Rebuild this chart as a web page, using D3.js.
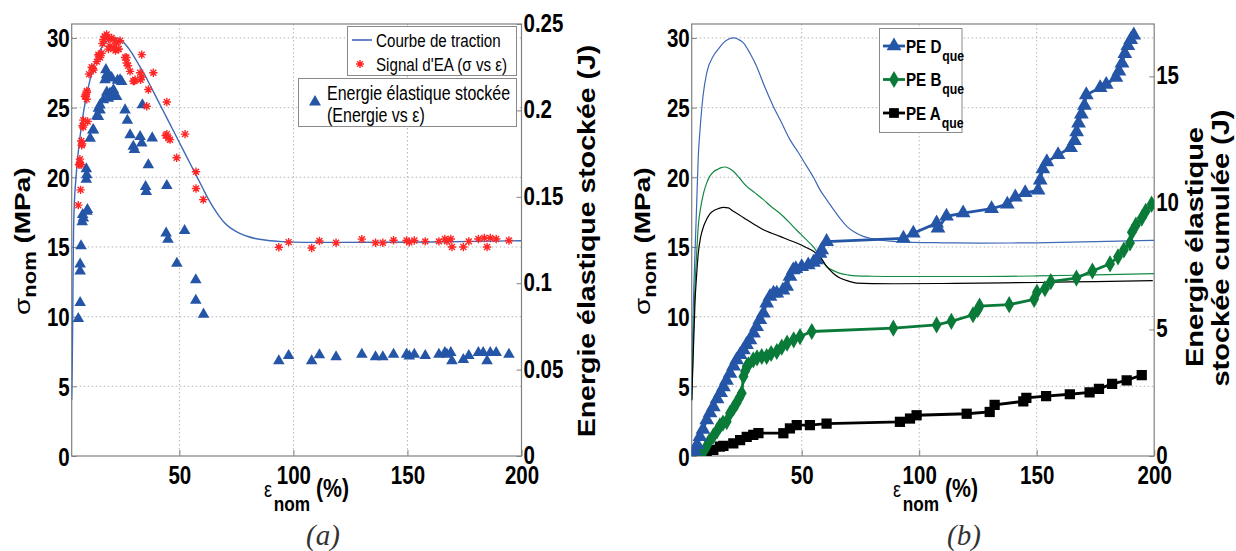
<!DOCTYPE html>
<html><head><meta charset="utf-8">
<script src="https://cdn.jsdelivr.net/npm/d3@7"></script>
<style>body{margin:0;background:#fff}</style>
</head><body>
<script>
// ---------------- Panel (a) data ----------------
const epsTraction = [2.8,3.0,3.2,3.4,3.6,4.0,4.6,5.3,6.0,7.0,8.0,9.0,10.0,11.0,12.5,14.0,15.5,17.0,18.5,20.0,21.5,23.0,24.5,26.0,28.0,30.0,32.5,35.0,37.5,40.0,42.5,45.0,47.5,50.0,52.5,55.0,57.5,60.0,62.5,65.0,67.5,70.0,72.5,75.0,77.5,80.0,85.0,90.0,95.0,100,110,120,140,160,180,200];
const sigTraction = [4.0,6.0,9.0,13.0,16.0,18.3,19.8,21.2,22.3,23.6,24.7,25.6,26.4,27.1,28.0,28.7,29.2,29.55,29.8,29.95,30.0,29.98,29.85,29.6,29.2,28.7,28.0,27.3,26.5,25.7,24.9,24.1,23.3,22.5,21.7,20.9,20.1,19.3,18.5,17.8,17.2,16.7,16.35,16.1,15.9,15.75,15.55,15.45,15.38,15.35,15.33,15.33,15.34,15.36,15.4,15.45];

const epsEA = [5.7,6.0,6.4,6.4,6.7,6.9,7.0,7.2,7.4,7.6,7.8,7.9,8.6,8.9,9.4,9.4,9.5,9.8,10.4,11.6,12.1,12.3,13.8,14.5,14.7,15.2,15.9,16.3,16.7,17.3,17.4,18.1,18.9,19.0,19.6,20.3,21.1,21.8,22.0,22.5,23.3,23.4,24.0,26.2,26.8,26.9,27.5,28.4,29.8,30.3,30.6,32.8,33.0,33.5,33.5,35.7,36.4,38.6,44.0,44.5,44.5,45.2,45.9,48.8,52.5,57.3,57.3,60.5,
  93.6,97.9,108,111.4,118.7,130,136,139.2,143.9,149.6,150.8,153,157.8,163.8,166.4,167.3,169,169.5,174.5,176.9,181.1,183.7,184.9,186.3,188.9,194.5];
const sigEA = [18.0,20.9,21.0,21.3,19.1,20.9,22.6,22.3,22.4,23.7,23.6,24.1,25.8,25.9,25.6,26.2,26.1,24.0,27.4,27.9,27.8,27.7,28.3,28.8,28.7,28.6,28.9,29.6,29.9,30.1,30.1,30.25,29.2,29.9,29.4,30.0,29.3,29.8,29.1,29.65,29.2,29.2,29.8,28.6,28.6,28.2,28.0,27.6,26.9,26.9,27.0,27.5,27.0,27.2,28.8,25.1,26.3,27.5,23.0,25.4,23.1,22.8,22.7,21.4,23.1,20.4,19.2,18.4,
  14.98,15.35,14.93,15.43,15.3,15.56,15.3,15.3,15.48,15.46,15.34,15.46,15.4,15.4,15.57,15.4,15.57,15.0,15.0,15.4,15.57,15.64,15.0,15.64,15.57,15.46];

const epsEnergie = [5.7,6.5,6.5,6.5,6.9,7.4,7.6,7.9,9.2,9.2,9.4,9.5,9.7,10.9,12.1,12.3,13.8,14.5,14.5,15.2,15.2,16.7,17.4,17.8,18.1,18.2,18.9,19.6,19.6,20.3,21.1,21.8,22.5,22.9,24.0,24.7,26.2,27.2,28.4,29.8,30.3,32.8,33.5,33.8,35.2,35.5,36.4,38.1,44.2,44.5,45.0,48.9,52.3,57.2,57.2,60.6,
  93.6,97.9,108,111.4,118.7,130,136,139.2,143.9,149.6,150.8,153,157.8,163.8,166.4,167.3,169,169.5,174.5,176.9,181.1,183.2,184.9,186.3,188.9,194.5];
const energie = [0.0795,0.0887,0.1069,0.111,0.1216,0.1355,0.1396,0.1376,0.16,0.1661,0.1627,0.1416,0.1425,0.1838,0.1885,0.1887,0.1966,0.1964,0.2012,0.2002,0.2031,0.206,0.2176,0.2235,0.2205,0.2105,0.207,0.2186,0.2099,0.219,0.2118,0.209,0.208,0.2174,0.2176,0.2166,0.2002,0.1942,0.1858,0.1791,0.1773,0.1848,0.181,0.2032,0.1559,0.153,0.1685,0.184,0.129,0.1565,0.1253,0.1115,0.1304,0.1019,0.09,0.082,
  0.055,0.058,0.055,0.0585,0.0574,0.0588,0.0574,0.0574,0.0588,0.0588,0.0578,0.0588,0.0581,0.0588,0.0598,0.0588,0.0598,0.055,0.0557,0.0581,0.0598,0.0598,0.055,0.0598,0.0598,0.0588];

// ---------------- Panel (b) data ----------------
const epsCurveD = [3.2,3.6,4.0,4.6,5.3,6.0,6.7,8,9.6,12.4,14.5,16.7,18.8,20.9,23,25.2,28,30.8,34,37.9,41.5,45,48.5,52.1,55,57.8,60.6,63.5,66.3,69.1,72.6,76.2,79.8,83.3,90,97.5,110,125.9,150,175,200];
const sigCurveD = [4.0,8.5,11.5,14.56,18,21.5,23.3,25.8,27.5,28.7,29.2,29.65,29.9,30.0,29.9,29.65,28.9,27.97,26.6,25.1,23.9,22.7,21.8,20.8,20.0,19.1,18.4,17.7,17.05,16.5,16.05,15.76,15.6,15.5,15.38,15.33,15.3,15.28,15.3,15.38,15.48];
const epsCurveB = [3.2,3.6,4.0,4.6,5.3,6.0,7,8.3,9.6,11,12.5,14,15.5,17.4,19,20.9,23.5,26.6,30,33.7,37,40.8,44.5,47.9,51.5,55,57.8,60.6,63.5,66.3,70,73.4,80,90.4,110,126,150,175,200];
const sigCurveB = [4.0,6.5,9.0,12.2,14.5,16.5,17.8,18.9,19.6,20.1,20.4,20.55,20.68,20.74,20.65,20.43,19.95,19.35,18.9,18.4,17.9,17.4,16.8,16.2,15.6,15.0,14.3,13.6,13.3,13.1,12.98,12.93,12.9,12.88,12.88,12.88,12.92,13.0,13.08];
const epsCurveA = [3.2,3.6,4.0,4.6,5.3,6.0,7,8.3,9.6,11,13,14.5,16.7,18.8,20.9,23.5,26.6,30,33.7,37,40.8,44.5,47.9,51.5,55,57.8,60.6,63.5,66.3,70,73.4,80,90.4,110,126,150,175,199.4];
const sigCurveA = [4.0,6.0,8.0,11.0,13.0,14.55,15.7,16.5,17.0,17.4,17.65,17.75,17.84,17.8,17.56,17.3,16.96,16.6,16.24,16.0,15.76,15.5,15.28,15.0,14.69,14.3,13.6,13.1,12.77,12.55,12.41,12.37,12.36,12.38,12.41,12.45,12.52,12.58,12.64];

const epsD = [3.5,4.5,5.5,6.7,8,9.6,11,12.4,14,15.5,16.7,18,19.5,21,22.3,23.8,25.2,26.5,28,29.5,30.8,32.2,33.7,35.1,36.5,38,39.4,42,43.6,45,46.4,47.5,50,52.8,55,56.4,57.8,58.5,60.6,93.3,97.5,107.4,108,111.6,118.7,130.8,137.5,140.9,145.1,150.6,151.5,152.6,154.3,159.1,164.4,166.1,167,167.8,169,170.3,171.1,177,179.6,183.7,185,186.3,187.5,188.8,190,191.3];
const energieD = [0,0.2,0.45,0.76,1.05,1.42,1.7,1.94,2.25,2.5,2.73,2.98,3.26,3.55,3.79,4.0,4.19,4.4,4.58,4.85,5.11,5.38,5.64,6.04,6.3,6.43,6.43,6.55,6.7,7.09,7.35,7.4,7.48,7.55,7.65,7.75,8.0,8.14,8.47,8.6,8.8,9.2,9.0,9.47,9.6,9.77,9.95,10.23,10.4,10.5,10.9,11.34,11.62,11.9,12.18,12.46,12.8,13.15,13.5,13.85,14.27,14.55,14.68,14.96,15.2,15.52,15.9,16.21,16.45,16.63];
const epsB = [6.7,8.8,10.5,12.4,14,15.2,16.5,18.1,19.5,21,22.3,23.5,24.5,25.2,25.9,26.6,27.3,29.4,31,33,35.1,37,39.4,41.5,43.8,46.6,49.3,54.3,89,107.4,113.7,122.9,124.9,125.7,138.3,148.9,150.1,153.5,156,166.9,173.7,181.2,184.6,187.1,189.7,190.5,192.2,194.7,196.4,198.9];
const energieB = [0,0.26,0.55,0.79,1.0,1.19,1.3,1.36,1.69,1.9,2.09,2.3,2.48,3.14,3.35,3.54,3.6,3.8,3.88,3.93,3.93,4.05,4.13,4.3,4.46,4.59,4.72,4.92,5.05,5.18,5.32,5.58,5.78,5.92,5.98,6.19,6.47,6.61,6.89,7.03,7.31,7.59,7.87,8.14,8.42,8.84,9.12,9.4,9.67,9.95];
const epsA = [7.4,9.6,12.4,15.2,16.7,20.9,23.8,26.6,29.4,31.6,42.2,45,47.9,53.5,60.6,91.8,96.1,98.9,120.2,130,132.1,144.3,145.6,154,164.1,172.5,176.5,182.1,188.3,194.7];
const energieA = [0.1,0.17,0.24,0.37,0.4,0.5,0.63,0.76,0.83,0.9,0.9,1.09,1.22,1.22,1.28,1.35,1.48,1.61,1.67,1.74,2.02,2.16,2.3,2.37,2.44,2.51,2.65,2.85,2.99,3.2];

// ---------------- ticks / labels ----------------
const sigmaTicks = [0,5,10,15,20,25,30];
const epsTicks = [50,100,150,200];
const energieTicksA = [0,0.05,0.1,0.15,0.2,0.25];
const energieTicksB = [0,5,10,15];
const legendA1 = ["Courbe de traction", "Signal d'EA (σ vs ε)"];
const legendA2 = ["Energie élastique stockée", "(Energie vs ε)"];
const legendB = ["D", "B", "A"];

// ---------------- drawing ----------------
const SQ = 0.82;
const FONT = "'Liberation Sans', Arial, Helvetica, sans-serif";
const BLUE = '#2455a6', RED = '#ff2626', GREEN = '#0a7a38', LINEBLUE = '#3f68b6';

const svg = d3.select('body').append('svg').attr('width',1236).attr('height',551);
svg.append('rect').attr('width',1236).attr('height',551).attr('fill','#fff');
const defs = svg.append('defs');

function addText(parent, x, y, opts, parts) {
  const t = parent.append('text')
    .attr('transform', `translate(${x},${y}) scale(${opts.sx ?? SQ},1)` + (opts.rot ? ` rotate(${opts.rot})` : ''))
    .attr('font-family', opts.family || FONT)
    .attr('font-size', opts.size)
    .attr('font-weight', opts.weight || 'normal')
    .attr('font-style', opts.style || 'normal')
    .attr('text-anchor', opts.anchor || 'start')
    .attr('fill', opts.fill || '#000');
  parts.forEach(p => {
    if (typeof p === 'string') t.append('tspan').text(p);
    else { const ts = t.append('tspan').text(p.t); for (const k in p) if (k !== 't') ts.attr(k, p[k]); }
  });
  return t;
}

function starPath(cx, cy, r) {
  let s = '';
  for (let i = 0; i < 4; i++) {
    const a = i * Math.PI / 4, dx = r * Math.cos(a), dy = r * Math.sin(a);
    s += `M${cx-dx},${cy-dy}L${cx+dx},${cy+dy}`;
  }
  return s;
}

function frame(p) {
  const {x, y, yr, L, R, T, B, rTicks, rFmt, id} = p;
  defs.append('clipPath').attr('id', id).append('rect').attr('x', L).attr('y', T).attr('width', R - L).attr('height', B - T);
  const g = svg.append('g');
  g.selectAll('line.gx').data(epsTicks.filter(d => d < 200)).join('line')
    .attr('x1', d => x(d)).attr('x2', d => x(d)).attr('y1', T).attr('y2', B)
    .attr('stroke', '#b5b5b5').attr('stroke-width', 1).attr('stroke-dasharray', '1.5,2.5');
  g.selectAll('line.gy').data(sigmaTicks.filter(d => d > 0)).join('line')
    .attr('y1', d => y(d)).attr('y2', d => y(d)).attr('x1', L).attr('x2', R)
    .attr('stroke', '#b5b5b5').attr('stroke-width', 1).attr('stroke-dasharray', '1.5,2.5');
  g.append('rect').attr('x', L).attr('y', T).attr('width', R - L).attr('height', B - T)
    .attr('fill', 'none').attr('stroke', '#808080').attr('stroke-width', 1.2);
  const style = (a, tx, anchor) => {
    a.select('.domain').remove();
    a.selectAll('.tick line').attr('stroke', '#808080');
    a.selectAll('.tick text').attr('x', 0).attr('y', 0).attr('dy', tx.dy)
      .attr('transform', tx.tr).attr('text-anchor', anchor)
      .attr('font-size', 25).attr('font-weight', 'bold').attr('font-family', FONT).attr('fill', '#000');
  };
  g.append('g').attr('transform', `translate(${L},0)`)
    .call(d3.axisLeft(y).tickValues(sigmaTicks).tickSize(-5).tickFormat(d3.format('d')))
    .call(a => style(a, {dy: '0.36em', tr: `translate(-2,0) scale(${SQ},1)`}, 'end'));
  g.append('g').attr('transform', `translate(0,${B})`)
    .call(d3.axisBottom(x).tickValues(epsTicks).tickSize(-6).tickFormat(d3.format('d')))
    .call(a => style(a, {dy: 0, tr: `translate(0,28) scale(${SQ},1)`}, 'middle'));
  g.append('g').attr('transform', `translate(${R},0)`)
    .call(d3.axisRight(yr).tickValues(rTicks).tickSize(-5).tickFormat(rFmt))
    .call(a => style(a, {dy: '0.36em', tr: `translate(2,-1.5) scale(${SQ},1)`}, 'start'));
  return svg.append('g').attr('clip-path', `url(#${id})`);
}

// ===== Panel (a) =====
const xA = d3.scaleLinear().domain([2.8, 200]).range([71.7, 521.5]);
const yA = d3.scaleLinear().domain([0, 31]).range([456, 24]);
const eA = d3.scaleLinear().domain([0, 0.25]).range([456, 24]);
const pA = frame({x: xA, y: yA, yr: eA, L: 71.7, R: 521.5, T: 24, B: 456, rTicks: energieTicksA,
  rFmt: d => String(+d.toFixed(2)), id: 'clipA'});

pA.append('path').datum(d3.zip(epsTraction, sigTraction))
  .attr('d', d3.line().x(d => xA(d[0])).y(d => yA(d[1])).curve(d3.curveMonotoneX))
  .attr('fill', 'none').attr('stroke', LINEBLUE).attr('stroke-width', 1.4);
pA.append('g').selectAll('path').data(d3.zip(epsEnergie, energie)).join('path')
  .attr('transform', d => `translate(${xA(d[0])},${eA(d[1])})`)
  .attr('d', d3.symbol(d3.symbolTriangle, 58)).attr('fill', BLUE);
pA.append('g').selectAll('path').data(d3.zip(epsEA, sigEA)).join('path')
  .attr('d', d => starPath(xA(d[0]), yA(d[1]), 4.2))
  .attr('stroke', RED).attr('stroke-width', 1.4).attr('fill', 'none');

// legend (a)
const lgA = svg.append('g');
lgA.append('rect').attr('x', 347.5).attr('y', 26.5).attr('width', 169).attr('height', 49)
  .attr('fill', '#fff').attr('stroke', '#8a8a8a');
lgA.append('line').attr('x1', 352).attr('x2', 372).attr('y1', 40).attr('y2', 40).attr('stroke', LINEBLUE).attr('stroke-width', 1.6);
addText(lgA, 376, 46.5, {size: 18.5}, [legendA1[0]]);
lgA.append('path').attr('d', starPath(360, 64, 4)).attr('stroke', RED).attr('stroke-width', 1.4);
addText(lgA, 376, 70.5, {size: 18.5}, [legendA1[1]]);
lgA.append('rect').attr('x', 298.5).attr('y', 78.5).attr('width', 218).attr('height', 48)
  .attr('fill', '#fff').attr('stroke', '#8a8a8a');
lgA.append('path').attr('transform', 'translate(315,102)').attr('d', d3.symbol(d3.symbolTriangle, 62)).attr('fill', BLUE);
addText(lgA, 327, 100, {size: 19.5}, [legendA2[0]]);
addText(lgA, 327, 122, {size: 19.5}, [legendA2[1]]);

// axis labels (a)
addText(svg, 30, 315, {size: 28, weight: 'bold', rot: -90}, [{t: 'σ', 'font-weight': 'normal'}, {t: 'nom', 'font-size': 22, dy: 7}, {t: ' (MPa)', dy: -7}]);
addText(svg, 595, 241, {size: 28.5, weight: 'bold', rot: -90, anchor: 'middle'}, ['Energie élastique stockée (J)']);
addText(svg, 264, 497, {size: 26, weight: 'bold'}, [{t: 'ε', 'font-weight': 'normal', 'font-size': 22}, {t: 'nom', 'font-size': 21, dy: 14, dx: 2}, {t: ' (%)', dy: -14}]);
addText(svg, 323, 545, {size: 29, style: 'italic', family: "'Liberation Serif','Times New Roman',serif", anchor: 'middle', sx: 1, fill: '#333'}, ['(a)']);

// ===== Panel (b) =====
const xB = d3.scaleLinear().domain([3.2, 200]).range([691.7, 1154.2]);
const yB = d3.scaleLinear().domain([0, 31]).range([456, 24]);
const eB = d3.scaleLinear().domain([0, 17.07]).range([456, 24]);
const pB = frame({x: xB, y: yB, yr: eB, L: 691.7, R: 1154.2, T: 24, B: 456, rTicks: energieTicksB,
  rFmt: d3.format('d'), id: 'clipB'});

const thin = d3.line().x(d => xB(d[0])).y(d => yB(d[1])).curve(d3.curveMonotoneX);
[[epsCurveD, sigCurveD, LINEBLUE], [epsCurveB, sigCurveB, '#138a44'], [epsCurveA, sigCurveA, '#000']].forEach(([e, s, c]) => {
  pB.append('path').datum(d3.zip(e, s)).attr('d', thin).attr('fill', 'none').attr('stroke', c).attr('stroke-width', 1.2);
});
const thick = d3.line().x(d => xB(d[0])).y(d => eB(d[1]));
const seriesB = [
  [epsA, energieA, '#000', d3.symbolSquare, 105],
  [epsB, energieB, GREEN, d3.symbolDiamond, 85],
  [epsD, energieD, BLUE, d3.symbolTriangle, 95]
];
seriesB.forEach(([e, v, c, sym, sz]) => {
  const data = d3.zip(e, v);
  pB.append('path').datum(data).attr('d', thick).attr('fill', 'none').attr('stroke', c).attr('stroke-width', 2.8);
  pB.append('g').selectAll('path').data(data).join('path')
    .attr('transform', d => `translate(${xB(d[0])},${eB(d[1])})`)
    .attr('d', d3.symbol(sym, sz)).attr('fill', c);
});

// legend (b)
const lgB = svg.append('g');
lgB.append('rect').attr('x', 879.5).attr('y', 28.5).attr('width', 82.5).attr('height', 104)
  .attr('fill', '#fff').attr('stroke', '#8a8a8a');
const legRows = [[46, BLUE, d3.symbolTriangle, 95], [79.5, GREEN, d3.symbolDiamond, 85], [113, '#000', d3.symbolSquare, 95]];
legRows.forEach(([ly, c, sym, sz], i) => {
  lgB.append('line').attr('x1', 883).attr('x2', 905).attr('y1', ly).attr('y2', ly).attr('stroke', c).attr('stroke-width', 2.8);
  lgB.append('path').attr('transform', `translate(894,${ly})`).attr('d', d3.symbol(sym, sz)).attr('fill', c);
  addText(lgB, 906, ly + 6.5, {size: 18.5, weight: 'bold'}, ['PE ' + legendB[i], {t: 'que', 'font-size': 15, dy: 8, dx: 1}]);
});

// axis labels (b)
addText(svg, 650, 315, {size: 28, weight: 'bold', rot: -90}, [{t: 'σ', 'font-weight': 'normal'}, {t: 'nom', 'font-size': 22, dy: 7}, {t: ' (MPa)', dy: -7}]);
addText(svg, 1203, 247, {size: 29, weight: 'bold', rot: -90, anchor: 'middle'}, ['Energie élastique']);
addText(svg, 1229, 248, {size: 29, weight: 'bold', rot: -90, anchor: 'middle'}, ['stockée cumulée (J)']);
addText(svg, 893, 497, {size: 26, weight: 'bold'}, [{t: 'ε', 'font-weight': 'normal', 'font-size': 22}, {t: 'nom', 'font-size': 21, dy: 14, dx: 2}, {t: ' (%)', dy: -14}]);
addText(svg, 964, 545, {size: 29, style: 'italic', family: "'Liberation Serif','Times New Roman',serif", anchor: 'middle', sx: 1, fill: '#333'}, ['(b)']);
</script>
</body></html>
